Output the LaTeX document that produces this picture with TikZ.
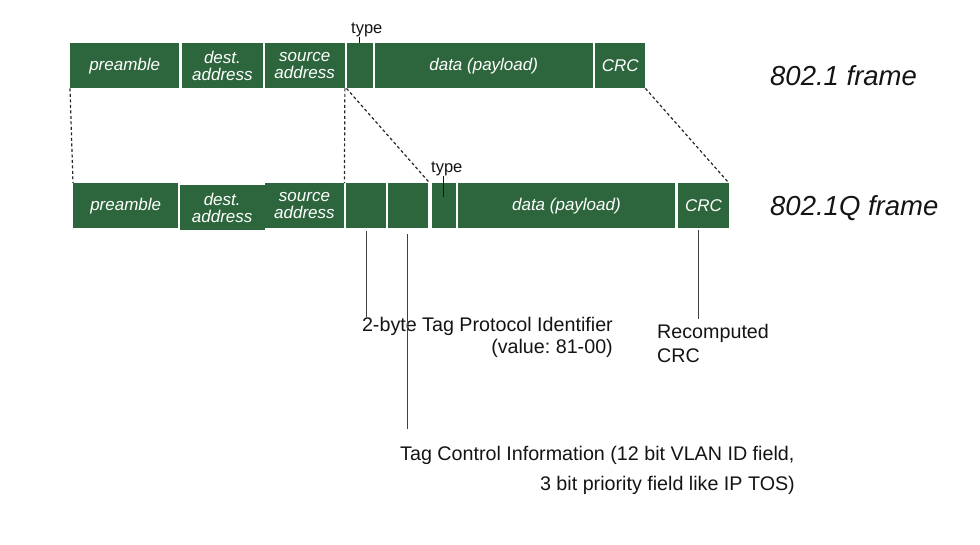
\documentclass[tikz,border=0pt]{standalone}
\usepackage{fontspec}
\setmainfont{Liberation Sans}
\usetikzlibrary{calc}
\definecolor{framegreen}{RGB}{45,102,61}
\definecolor{ink}{RGB}{20,20,20}
\frenchspacing
\begin{document}
\begin{tikzpicture}[x=1pt,y=-1pt,
  fieldbox/.style={fill=framegreen, draw=none, inner sep=0pt, anchor=north west, text=white,
    font=\itshape\fontsize{17}{17}\selectfont, align=center},
  typelbl/.style={anchor=base west, inner sep=0pt, font=\fontsize{16.5}{17}\selectfont, text=ink},
  framelbl/.style={anchor=base west, inner sep=0pt, font=\itshape\fontsize{27.5}{30}\selectfont, text=ink},
  annot/.style={inner sep=0pt, font=\fontsize{19.7}{22}\selectfont, text=ink},
  guide/.style={draw=black!85, line width=1.2pt, dash pattern=on 3pt off 2.5pt},
  pointer/.style={draw=black!75, line width=1pt},
]
\useasboundingbox (0,0) rectangle (980,544);

% 802.1 frame
\node[fieldbox, minimum width=109pt, minimum height=45pt] (pre1) at (70,43) {preamble};
\node[fieldbox, minimum width=80.5pt, minimum height=45pt] (dst1) at (182,43) {dest.\\address};
\node[fieldbox, minimum width=80pt, minimum height=45pt] (src1) at (264.5,43) {source\\address};
\node[fieldbox, minimum width=26pt, minimum height=45pt] (typ1) at (346.5,43) {};
\node[fieldbox, minimum width=218pt, minimum height=45pt] (dat1) at (374.5,43) {data (payload)};
\node[fieldbox, minimum width=50pt, minimum height=45pt] (crc1) at (595,43) {CRC};

% 802.1Q frame
\node[fieldbox, minimum width=105pt, minimum height=45pt] (pre2) at (73,183) {preamble};
\node[fieldbox, minimum width=85pt, minimum height=45pt] (dst2) at (179.5,185) {dest.\\address};
\node[fieldbox, minimum width=79.5pt, minimum height=45pt] (src2) at (264.5,183) {source\\address};
\node[fieldbox, minimum width=40pt, minimum height=45pt] (tpid) at (346,183) {};
\node[fieldbox, minimum width=39.5pt, minimum height=45pt] (tci) at (388,183) {};
\node[fieldbox, minimum width=24pt, minimum height=45pt] (typ2) at (431.5,183) {};
\node[fieldbox, minimum width=217.5pt, minimum height=45pt] (dat2) at (457.5,183) {data (payload)};
\node[fieldbox, minimum width=50.5pt, minimum height=45pt] (crc2) at (678,183) {CRC};

% type labels
\node[typelbl] (tl1) at (351,33) {type};
\node[typelbl] (tl2) at (431,172) {type};
\draw[pointer, draw=ink] (tl1.south -| typ1.north) -- (typ1.north);
\draw[pointer, draw=ink] (tl2.south -| typ2.north) -- ($(typ2.north)+(0,14)$);

% frame names
\node[framelbl] (f1) at (770,85) {802.1 frame};
\node[framelbl] (f2) at (770,215.5) {802.1Q frame};

% dashed guides
\draw[guide] (pre1.south west) -- (pre2.north west);
\draw[guide] (src1.south east) -- (src2.north east);
\draw[guide] (typ1.south west) -- ($(tci.north east)!0.5!(typ2.north west)$);
\draw[guide] (crc1.south east) -- (crc2.north east);

% annotations
\node[annot, anchor=base east] (tp1) at (613,331) {2-byte Tag Protocol Identifier};
\node[annot, anchor=base east] (tp2) at (613,353) {(value: 81-00)};
\node[annot, anchor=base west] (rc1) at (657,338) {Recomputed};
\node[annot, anchor=base west] (rc2) at (657,362) {CRC};
\node[annot, anchor=base west] (tc1) at (400,460.5) {Tag Control Information (12 bit VLAN ID field,};
\node[annot, anchor=base east] (tc2) at (795,490) {3 bit priority field like IP TOS)};

% pointers
\draw[pointer] ([yshift=-3pt]tpid.south) -- (tpid.south |- tp1.north);
\draw[pointer] ([yshift=-6pt]tci.south) -- ($(tci.south |- tc1.north)+(0,-17)$);
\draw[pointer] ([xshift=-5pt,yshift=-2pt]crc2.south) -- ($(crc2.south |- rc1.north)+(-5,-5)$);
\end{tikzpicture}
\end{document}
